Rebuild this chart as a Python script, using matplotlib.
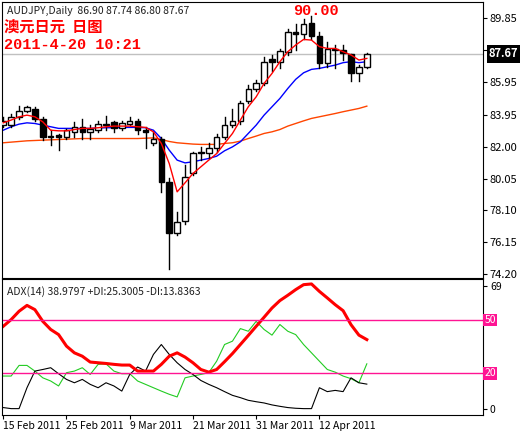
import numpy as np
import matplotlib.pyplot as plt
from matplotlib.patches import Rectangle

plt.rcParams['font.family'] = ['Noto Sans CJK SC', 'DejaVu Sans']

# AUDJPY daily candles (open, high, low, close)
opens = [83.3, 83.3, 83.8, 84.2, 84.3, 83.7, 82.6, 82.7, 82.6, 82.9, 83.2, 82.9, 83.0, 83.4, 83.5, 83.15,
         83.4, 83.6, 83.0, 82.2, 82.5, 79.85, 76.75, 77.45, 80.4, 81.7, 81.6, 81.9, 82.6, 83.3, 83.6, 84.8,
         85.5, 85.9, 87.35, 87.15, 87.8, 89.0, 88.9, 89.55, 88.8, 87.1, 88.0, 87.9, 87.65, 86.5, 86.9]
highs = [83.8, 84.0, 84.5, 84.5, 84.4, 83.8, 83.0, 82.8, 83.1, 83.5, 83.7, 83.3, 83.6, 83.9, 83.6, 83.6,
         83.8, 83.7, 83.2, 82.9, 82.6, 80.1, 78.0, 80.9, 81.7, 82.0, 82.2, 82.8, 83.8, 84.3, 84.8, 85.8,
         86.1, 87.5, 87.6, 88.0, 89.2, 89.5, 89.8, 90.0, 89.0, 88.4, 88.2, 88.2, 87.7, 87.0, 87.74]
lows = [83.2, 83.2, 83.7, 84.1, 83.6, 82.4, 82.1, 81.8, 82.5, 82.6, 82.5, 82.5, 82.9, 83.0, 82.9, 83.0,
        83.3, 82.8, 81.9, 82.1, 79.2, 74.5, 76.6, 77.3, 80.3, 81.2, 81.3, 81.7, 82.5, 83.2, 83.4, 84.7,
        85.4, 85.8, 86.6, 86.8, 87.6, 87.9, 88.6, 88.6, 86.8, 86.9, 86.8, 87.3, 86.0, 86.0, 86.8]
closes = [83.6, 83.8, 84.2, 84.4, 83.7, 82.6, 82.6, 82.6, 83.0, 83.2, 82.9, 83.1, 83.4, 83.35, 83.15, 83.45,
          83.6, 83.0, 82.9, 82.5, 79.85, 76.7, 77.4, 80.15, 81.6, 81.6, 81.9, 82.6, 83.35, 83.6, 84.7, 85.55,
          85.9, 87.2, 87.15, 87.85, 89.0, 88.9, 89.5, 88.75, 87.1, 88.0, 87.9, 87.75, 86.5, 86.9, 87.67]

ma_red = [83.46, 83.63, 83.83, 83.93, 83.83, 83.52, 83.01, 82.97, 82.97, 83.05, 83.12, 83.12, 83.16, 83.22,
          83.26, 83.26, 83.26, 83.22, 83.18, 82.91, 82.2, 80.97, 79.24, 79.79, 80.36, 80.77, 81.18, 81.58,
          82.2, 82.81, 83.63, 84.44, 85.05, 85.87, 86.48, 87.2, 87.81, 88.22, 88.56, 88.52, 88.12, 88.01,
          88.01, 87.81, 87.61, 87.3, 87.4]
ma_blue = [83.01, 83.22, 83.38, 83.46, 83.42, 83.32, 83.22, 83.12, 83.12, 83.12, 83.12, 83.12, 83.14, 83.16,
           83.16, 83.18, 83.18, 83.18, 83.16, 83.01, 82.5, 81.79, 81.18, 81.01, 81.08, 81.18, 81.28, 81.42,
           81.75, 81.99, 82.3, 82.81, 83.32, 83.93, 84.44, 84.95, 85.56, 86.12, 86.52, 86.73, 86.79, 86.89,
           86.99, 87.14, 87.2, 87.14, 87.2]
ma_orange = [82.24, 82.28, 82.32, 82.36, 82.38, 82.4, 82.42, 82.44, 82.46, 82.48, 82.5, 82.5, 82.5, 82.5,
             82.5, 82.5, 82.5, 82.5, 82.52, 82.54, 82.44, 82.32, 82.24, 82.2, 82.16, 82.14, 82.14, 82.14,
             82.2, 82.24, 82.34, 82.5, 82.65, 82.81, 82.91, 83.05, 83.26, 83.42, 83.58, 83.73, 83.83, 83.93,
             84.03, 84.14, 84.24, 84.34, 84.48]

adx = [46.5, 50.3, 55.0, 58.3, 55.9, 49.3, 44.7, 41.8, 35.3, 31.5, 29.6, 26.3, 25.9, 25.5, 25.0, 24.6,
       24.6, 21.2, 21.2, 21.2, 25.0, 29.6, 31.5, 29.1, 25.9, 22.1, 20.6, 22.1, 26.5, 31.1, 36.2, 41.3,
       46.5, 51.6, 56.8, 61.0, 64.0, 67.2, 70.0, 70.4, 66.2, 62.5, 58.7, 55.3, 47.4, 41.5, 38.98]
plus_di = [18.4, 18.4, 24.4, 24.4, 21.2, 17.4, 15.6, 12.8, 20.3, 21.2, 23.1, 19.3, 25.0, 25.3, 21.2, 19.7,
           19.7, 15.6, 13.7, 11.8, 9.9, 8.1, 6.6, 17.4, 18.4, 19.3, 20.3, 26.8, 36.2, 38.1, 45.2, 43.7,
           49.3, 44.7, 41.5, 47.5, 43.7, 41.8, 36.2, 31.5, 26.8, 22.1, 20.6, 18.4, 16.9, 14.6, 25.3]
minus_di = [0.6, 0.0, 0.0, 11.8, 21.2, 22.1, 23.1, 19.7, 16.5, 14.6, 16.5, 13.7, 11.8, 14.6, 12.8, 9.9,
            19.3, 23.5, 21.2, 30.6, 36.2, 30.6, 25.9, 22.1, 19.3, 15.9, 13.7, 11.8, 9.6, 7.5, 6.2, 4.7,
            3.9, 3.2, 2.1, 1.3, 0.6, 0.2, 0.0, 0.0, 11.8, 9.6, 10.3, 9.6, 17.4, 14.6, 13.84]

price_ticks = [89.85, 87.90, 85.95, 83.95, 82.00, 80.05, 78.10, 76.15, 74.20]
date_idx = [0, 8, 16, 24, 32, 40]
date_labels = ['15 Feb 2011', '25 Feb 2011', '9 Mar 2011', '21 Mar 2011', '31 Mar 2011', '12 Apr 2011']

W, H = 530, 433
fig = plt.figure(figsize=(W / 100, H / 100), dpi=100)
ax = fig.add_axes([2 / W, 1 - 278 / H, 481 / W, 276 / H])
ax2 = fig.add_axes([2 / W, 1 - 415 / H, 481 / W, 136 / H])

x = np.arange(len(opens))
for i in x:
    o, h, l, c = opens[i], highs[i], lows[i], closes[i]
    ax.plot([i, i], [l, h], color='black', lw=1, zorder=3)
    bot, top = min(o, c), max(o, c)
    ax.add_patch(Rectangle((i - 0.35, bot), 0.7, max(top - bot, 0.05),
                           facecolor='white' if c >= o else 'black', edgecolor='black', lw=1, zorder=4))

ax.plot(x, ma_orange, color='#ff4500', lw=1, zorder=2)
ax.plot(x, ma_blue, color='blue', lw=1, zorder=2)
ax.plot(x, ma_red, color='red', lw=1, zorder=5)
ax.axhline(87.67, color='#c0c0c0', lw=1, zorder=1)

ax.set_xlim(-0.16, 60.7)
ax.set_ylim(73.97, 90.85)
ax.yaxis.tick_right()
ax.set_yticks(price_ticks)
ax.set_yticklabels([f'{t:.2f}' for t in price_ticks])
ax.tick_params(axis='y', labelsize=8, length=3, pad=2)
ax.set_xticks([])
ax.text(1.012, 87.67, '87.67', transform=ax.get_yaxis_transform(), fontsize=8, fontweight='bold',
        color='white', va='center', ha='left', zorder=10,
        bbox=dict(facecolor='black', edgecolor='none', pad=1.5))

ax.text(0.01, 0.985, 'AUDJPY,Daily  86.90 87.74 86.80 87.67', transform=ax.transAxes,
        fontsize=7.5, va='top', color='#202020')
ax.text(0.005, 0.935, '澳元日元  日图', transform=ax.transAxes, fontsize=11, fontweight='bold',
        color='red', va='top')
ax.text(0.005, 0.87, '2011-4-20 10:21', transform=ax.transAxes, fontsize=11, fontweight='bold',
        color='red', va='top', family='Liberation Mono')
ax.text(39.5, 90.3, '90.00', fontsize=11, fontweight='bold', color='red', ha='center', va='center',
        family='Liberation Mono')

ax2.plot(x, plus_di, color='#22cc22', lw=0.8)
ax2.plot(x, minus_di, color='black', lw=0.8)
ax2.plot(x, adx, color='red', lw=2.2)
ax2.axhline(50, color='#ff1493', lw=1)
ax2.axhline(20, color='#ff1493', lw=1)
ax2.set_xlim(-0.16, 60.7)
ax2.set_ylim(-3.6, 73.2)
ax2.yaxis.tick_right()
ax2.set_yticks([0, 69])
ax2.tick_params(axis='y', labelsize=7.5, length=3, pad=2)
for lv in (50, 20):
    ax2.text(1.003, lv, str(lv), transform=ax2.get_yaxis_transform(), fontsize=7.5, color='white',
             va='center', ha='left', bbox=dict(facecolor='#ff1493', edgecolor='none', pad=1))
ax2.set_xticks(date_idx)
ax2.set_xticklabels(date_labels, ha='left', fontsize=7.5)
ax2.tick_params(axis='x', length=3, pad=1)
ax2.text(0.01, 0.95, 'ADX(14) 38.9797 +DI:25.3005 -DI:13.8363', transform=ax2.transAxes,
         fontsize=7.5, va='top', color='#202020')

fig.savefig('out.png', dpi=100)
